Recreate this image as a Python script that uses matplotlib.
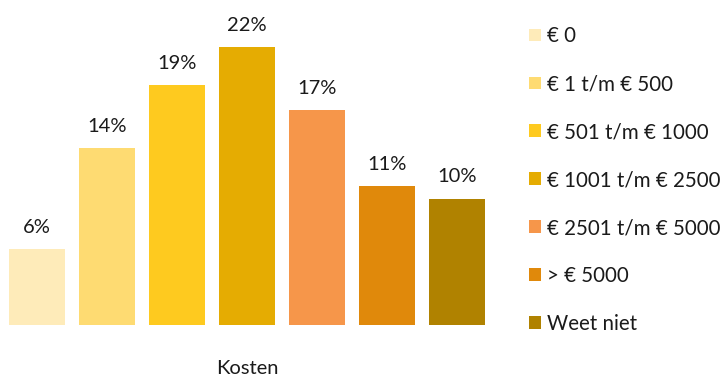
import matplotlib
matplotlib.use("Agg")
import matplotlib.pyplot as plt

# Share of respondents per cost bracket (percent)
categories = ["€ 0", "€ 1 t/m € 500", "€ 501 t/m € 1000", "€ 1001 t/m € 2500",
              "€ 2501 t/m € 5000", "> € 5000", "Weet niet"]
values = [6, 14, 19, 22, 17, 11, 10]
colors = ["#FEEBB9", "#FEDB72", "#FECA1F", "#E5AC02", "#F6964A", "#E0890B", "#B08200"]
x_label = "Kosten"

plt.rcParams["font.family"] = ["Lato", "DejaVu Sans"]

W, H = 721, 377
fig = plt.figure(figsize=(W / 100, H / 100), dpi=100)
# axes in pixel terms: x 0..494, baseline at y=325 from top
ax = fig.add_axes([0, (H - 325) / H, 494 / W, 325 / H])

positions = list(range(len(values)))
bars = ax.bar(positions, values, width=0.8, color=colors, label=categories)
for b, v in zip(bars, values):
    ax.text(b.get_x() + b.get_width() / 2, v + 1.05, f"{v}%",
            ha="center", va="bottom", fontsize=14.5, color="#1a1a1a")

ax.set_xlim(-0.5286, 6.5286)
ax.set_ylim(0, 325 / 12.64)
ax.axis("off")
fig.text(247 / W, 1 - 369 / H, x_label, ha="center", va="center",
         fontsize=14.5, color="#1a1a1a")

leg = fig.legend(handles=list(bars), labels=categories, loc="upper left",
                 bbox_to_anchor=(521 / W, 1 - 18 / H), frameon=False,
                 fontsize=14.8, handlelength=0.58, handleheight=0.58,
                 handletextpad=0.3, labelspacing=1.36, borderaxespad=0)
for t in leg.get_texts():
    t.set_color("#1a1a1a")

fig.savefig("out.png", dpi=100)
